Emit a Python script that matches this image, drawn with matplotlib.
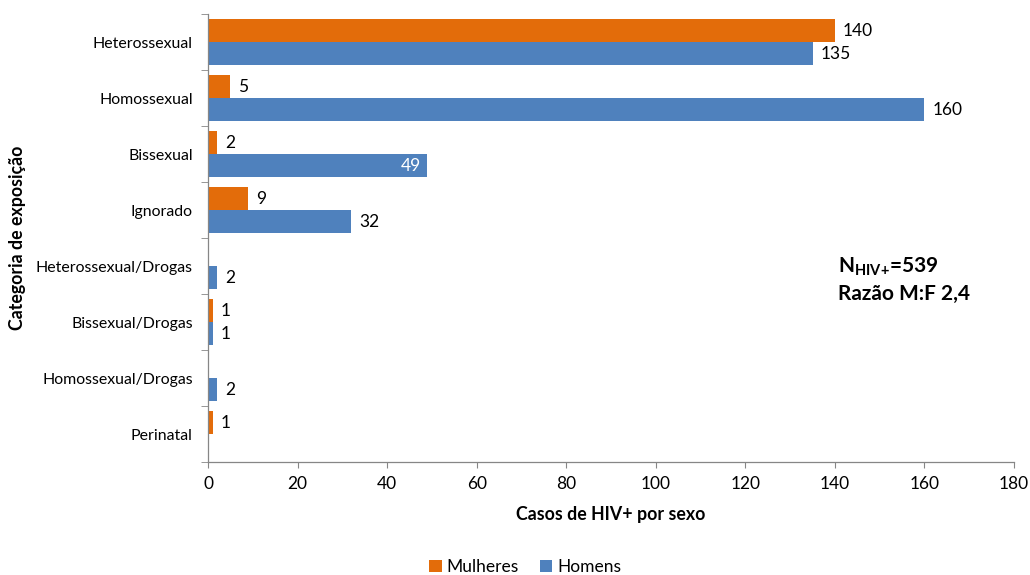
import numpy as np
import matplotlib.pyplot as plt

categories = ['Heterossexual', 'Homossexual', 'Bissexual', 'Ignorado',
              'Heterossexual/Drogas', 'Bissexual/Drogas', 'Homossexual/Drogas', 'Perinatal']
mulheres = [140, 5, 2, 9, None, 1, None, 1]
homens = [135, 160, 49, 32, 2, 1, 2, None]
x_ticks = [0, 20, 40, 60, 80, 100, 120, 140, 160, 180]

plt.rcParams['font.family'] = ['Lato', 'DejaVu Sans']
plt.rcParams['mathtext.fontset'] = 'custom'
plt.rcParams['mathtext.rm'] = 'Lato'
plt.rcParams['mathtext.bf'] = 'Lato:bold'

ORANGE = '#E36C0A'
BLUE = '#4F81BD'

fig = plt.figure(figsize=(10.3, 5.75), dpi=100)
ax = fig.add_axes([0.202, 0.1965, 0.7825, 0.779])

y = np.arange(len(categories))
h = 0.41

def vals(seq):
    return [np.nan if v is None else v for v in seq]

ax.barh(y - h / 2, vals(mulheres), height=h, color=ORANGE, label='Mulheres')
ax.barh(y + h / 2, vals(homens), height=h, color=BLUE, label='Homens')

# value labels
for yi, v in zip(y - h / 2, mulheres):
    if v is not None:
        ax.text(v + 1.8, yi, str(v), va='center', ha='left', fontsize=12.5)
for yi, v in zip(y + h / 2, homens):
    if v is None:
        continue
    if v == 49:
        ax.text(v - 1.5, yi, str(v), va='center', ha='right', fontsize=12.5, color='white')
    else:
        ax.text(v + 1.8, yi, str(v), va='center', ha='left', fontsize=12.5)

ax.set_xlim(0, 180)
ax.set_ylim(len(categories) - 0.5, -0.5)
ax.set_xticks(x_ticks)
ax.tick_params(axis='x', labelsize=12.5, length=4, color='#868686', pad=6)

ax.set_yticks(y)
ax.set_yticklabels(categories, fontsize=11.4)
ax.set_yticks(np.arange(len(categories) + 1) - 0.5, minor=True)
ax.tick_params(axis='y', which='major', length=0, pad=11)
ax.tick_params(axis='y', which='minor', length=5, color='#868686')

for s in ['top', 'right']:
    ax.spines[s].set_visible(False)
for s in ['left', 'bottom']:
    ax.spines[s].set_color('#868686')
    ax.spines[s].set_linewidth(0.9)

ax.set_xlabel('Casos de HIV+ por sexo', fontsize=12.8, fontweight='bold', va='center')
ax.xaxis.set_label_coords(0.5, -0.118)
ax.set_ylabel('Categoria de exposição', fontsize=12.8, fontweight='bold', va='center')
ax.yaxis.set_label_coords(-0.236, 0.5)

ax.text(0.782, 0.436, r'N$_{\mathbf{HIV{+}}}$=539', transform=ax.transAxes,
        fontsize=15, fontweight='bold', va='center')
ax.text(0.782, 0.376, 'Razão M:F 2,4', transform=ax.transAxes,
        fontsize=15, fontweight='bold', va='center')

fig.legend(loc='center', bbox_to_anchor=(0.51, 0.014), ncol=2, frameon=False,
           fontsize=12.5, handlelength=0.7, handleheight=0.7, handletextpad=0.3,
           columnspacing=1.2, borderpad=0)

fig.savefig('out.png', dpi=100)
